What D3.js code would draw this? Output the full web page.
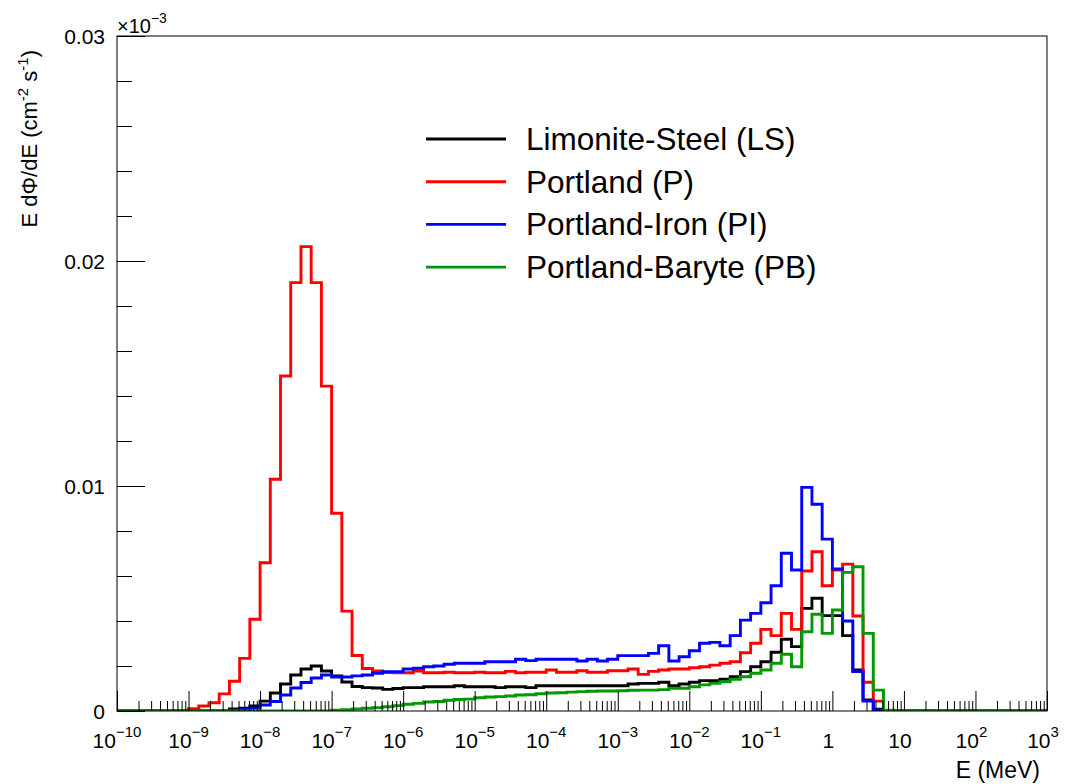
<!DOCTYPE html>
<html>
<head>
<meta charset="utf-8">
<script src="https://cdn.jsdelivr.net/npm/d3@7"></script>
<style>
    body { margin: 0; background: #fff; }
    svg { display: block; }
    text { font-family: "Liberation Sans", Arial, Helvetica, sans-serif; fill: #000; }
    .tick-label { font-size: 21px; }
</style>
</head>
<body>
<svg id="chart" width="1069" height="784"></svg>
<script>

// histogram binning: 7 log bins per decade, 1e-10 .. 1e3 MeV
const binsPerDecade = 7;
const eMin = 1e-10, eMax = 1e3;

const seriesNames = ["Limonite-Steel (LS)", "Portland (P)", "Portland-Iron (PI)", "Portland-Baryte (PB)"];
const seriesColors = ["#000000", "#ff0000", "#0000ff", "#009900"];

// one row per decade (7 bins)
const limoniteSteel = [
    0, 0, 0, 0, 0, 0, 0,
    0, 0, 0, 0, 0.00009, 0.00013, 0.00022,
    0.00044, 0.0008, 0.0012, 0.0016, 0.00187, 0.002, 0.00178,
    0.00156, 0.00129, 0.00109, 0.00104, 0.00102, 0.00096, 0.001,
    0.00104, 0.00104, 0.00108, 0.00108, 0.00108, 0.00112, 0.00108,
    0.00108, 0.00108, 0.00104, 0.00108, 0.00108, 0.00104, 0.00112,
    0.00112, 0.00112, 0.00112, 0.00112, 0.00112, 0.00112, 0.00112,
    0.00112, 0.0012, 0.00123, 0.00123, 0.00128, 0.00112, 0.0012,
    0.00128, 0.00135, 0.00135, 0.00141, 0.00152, 0.00175, 0.00197,
    0.00219, 0.00261, 0.00319, 0.00286, 0.00456, 0.00501, 0.00424,
    0.00424, 0.00335, 0.00182, 0.00049, 0.00008, 0, 0,
    0, 0, 0, 0, 0, 0, 0,
    0, 0, 0, 0, 0, 0, 0
];
const portland = [
    0, 0, 0, 0, 0, 0, 0,
    0.0001, 0.00022, 0.00037, 0.00076, 0.00132, 0.00234, 0.00408,
    0.00659, 0.0103, 0.01489, 0.01904, 0.02064, 0.01904, 0.01444,
    0.00879, 0.00444, 0.00247, 0.00189, 0.00178, 0.00171, 0.0017,
    0.0017, 0.00178, 0.0017, 0.0017, 0.00172, 0.0017, 0.0017,
    0.00172, 0.0017, 0.0017, 0.00176, 0.0017, 0.00172, 0.00172,
    0.00182, 0.00172, 0.00172, 0.00179, 0.00172, 0.00172, 0.00179,
    0.00179, 0.00187, 0.00163, 0.00176, 0.00182, 0.00187, 0.00187,
    0.00192, 0.00197, 0.00204, 0.00212, 0.00219, 0.00259, 0.00301,
    0.00363, 0.00335, 0.00434, 0.00363, 0.00622, 0.00708, 0.00557,
    0.00627, 0.00653, 0.00422, 0.00128, 0.00044, 0, 0,
    0, 0, 0, 0, 0, 0, 0,
    0, 0, 0, 0, 0, 0, 0
];
const portlandIron = [
    0, 0, 0, 0, 0, 0, 0,
    0, 0, 0, 0, 0, 0.00007, 0.00013,
    0.00027, 0.00042, 0.00071, 0.00102, 0.00127, 0.00147, 0.0016,
    0.00151, 0.00151, 0.00156, 0.0016, 0.00168, 0.00175, 0.00175,
    0.00187, 0.0019, 0.00197, 0.002, 0.00208, 0.00212, 0.00212,
    0.00212, 0.00219, 0.00219, 0.00219, 0.0023, 0.00224, 0.0023,
    0.0023, 0.0023, 0.0023, 0.00222, 0.0023, 0.00222, 0.0023,
    0.00246, 0.00246, 0.00246, 0.00256, 0.0029, 0.00222, 0.00241,
    0.00268, 0.00301, 0.00305, 0.0029, 0.00335, 0.00404, 0.00434,
    0.00481, 0.00557, 0.00701, 0.00627, 0.00994, 0.00919, 0.00764,
    0.00631, 0.004, 0.00175, 0.00044, 0.00004, 0, 0,
    0, 0, 0, 0, 0, 0, 0,
    0, 0, 0, 0, 0, 0, 0
];
const portlandBaryte = [
    0, 0, 0, 0, 0, 0, 0,
    0, 0, 0, 0, 0, 0, 0,
    0, 0, 0, 0, 0, 0, 0,
    0.00004, 0.00006, 0.00009, 0.00012, 0.00015, 0.00019, 0.00024,
    0.0003, 0.00034, 0.0004, 0.00042, 0.00048, 0.00051, 0.00053,
    0.00059, 0.00062, 0.00064, 0.00067, 0.00071, 0.00072, 0.00077,
    0.0008, 0.00081, 0.00084, 0.00086, 0.00088, 0.00089, 0.00089,
    0.0009, 0.00092, 0.00093, 0.00093, 0.00095, 0.00101, 0.00101,
    0.00108, 0.00116, 0.00123, 0.0013, 0.00141, 0.00152, 0.00168,
    0.00182, 0.00212, 0.00252, 0.00197, 0.00352, 0.0043, 0.00345,
    0.00449, 0.00616, 0.00641, 0.00345, 0.00093, 0.00004, 0,
    0, 0, 0, 0, 0, 0, 0,
    0, 0, 0, 0, 0, 0, 0
];

const xTickValues = [1e-10, 1e-9, 1e-8, 1e-7, 1e-6, 1e-5, 1e-4, 1e-3, 1e-2, 1e-1, 1, 10, 100, 1000];
const xTickLabels = ["10^-10", "10^-9", "10^-8", "10^-7", "10^-6", "10^-5", "10^-4",
                     "10^-3", "10^-2", "10^-1", "1", "10", "10^2", "10^3"];
const yTickValues = [0, 0.01, 0.02, 0.03];
const yTickLabels = ["0", "0.01", "0.02", "0.03"];

const allSeries = [limoniteSteel, portland, portlandIron, portlandBaryte];

let svg = d3.select("#chart");
let plotLeft = 117, plotRight = 1047, plotTop = 36, plotBottom = 711;

let x = d3.scaleLog().domain([eMin, eMax]).range([plotLeft, plotRight]);
let y = d3.scaleLinear().domain([0, 0.03]).range([plotBottom, plotTop]);

let edges = d3.range(limoniteSteel.length + 1).map(function (i) {
    return eMin * Math.pow(10, i / binsPerDecade);
});

svg.append("defs").append("clipPath").attr("id", "plotClip")
    .append("rect")
    .attr("x", plotLeft).attr("y", plotTop - 2)
    .attr("width", plotRight - plotLeft).attr("height", plotBottom - plotTop + 2);

// histograms
let histLine = d3.line()
    .x(function (d) { return x(d[0]); })
    .y(function (d) { return y(d[1]); })
    .curve(d3.curveStepAfter);

let plot = svg.append("g").attr("clip-path", "url(#plotClip)");
allSeries.forEach(function (values, s) {
    let pts = values.map(function (v, i) { return [edges[i], v]; });
    pts.push([edges[values.length], values[values.length - 1]]);
    plot.append("path")
        .attr("d", histLine(pts))
        .attr("fill", "none")
        .attr("stroke", seriesColors[s])
        .attr("stroke-width", 2.9)
        .attr("stroke-linejoin", "miter");
});

// minor ticks, 2..9 per decade
let xMinor = [];
xTickValues.slice(0, -1).forEach(function (d) {
    for (let k = 2; k <= 9; k++) xMinor.push(d * k);
});
let yMinor = d3.range(1, 15).map(function (i) { return i * 0.002; })
    .filter(function (d, i) { return (i + 1) % 5 !== 0; });

function cleanAxis(g) {
    g.select(".domain").remove();
    g.attr("font-size", null).attr("font-family", null);
    g.selectAll(".tick line").attr("stroke", "#000").attr("stroke-width", 1);
}

svg.append("g").attr("transform", "translate(0," + plotBottom + ")")
    .call(d3.axisBottom(x).tickValues(xMinor).tickSize(-10).tickSizeOuter(0).tickFormat(""))
    .call(cleanAxis);
svg.append("g").attr("transform", "translate(0," + plotBottom + ")")
    .call(d3.axisBottom(x).tickValues(xTickValues).tickSize(-20).tickSizeOuter(0).tickFormat(""))
    .call(cleanAxis);

svg.append("g").attr("transform", "translate(" + plotLeft + ",0)")
    .call(d3.axisLeft(y).tickValues(yMinor).tickSize(-15).tickSizeOuter(0).tickFormat(""))
    .call(cleanAxis);
svg.append("g").attr("transform", "translate(" + plotLeft + ",0)")
    .call(d3.axisLeft(y).tickValues(yTickValues).tickSize(-28).tickSizeOuter(0).tickPadding(12)
        .tickFormat(function (d, i) { return yTickLabels[i]; }))
    .call(cleanAxis)
    .selectAll(".tick text").attr("class", "tick-label").attr("dy", "0.36em");

// x tick labels with exponents
xTickValues.forEach(function (v, i) {
    let parts = xTickLabels[i].split("^");
    let t = svg.append("text")
        .attr("class", "tick-label")
        .attr("x", x(v))
        .attr("y", 748)
        .attr("text-anchor", "middle");
    t.append("tspan").text(parts[0]);
    if (parts.length > 1) {
        t.append("tspan").attr("dy", -11).attr("font-size", "15px")
            .text(parts[1].replace("-", "\u2212"));
    }
    if (parts.length === 1 || parts[1].indexOf("-") < 0) t.attr("dx", -4);
});

// frame
svg.append("rect")
    .attr("x", plotLeft).attr("y", plotTop)
    .attr("width", plotRight - plotLeft).attr("height", plotBottom - plotTop)
    .attr("fill", "none").attr("stroke", "#000").attr("stroke-width", 1);

// exponent note at the top of the y axis
let expNote = svg.append("text").attr("x", plotLeft).attr("y", 33).attr("font-size", "20px");
expNote.append("tspan").text("\u00d710");
expNote.append("tspan").attr("dy", -10).attr("font-size", "14px").text("\u22123");

// axis titles
svg.append("text")
    .attr("x", 1040).attr("y", 778)
    .attr("text-anchor", "end")
    .attr("font-size", "23px")
    .text("E (MeV)");

let yTitle = svg.append("text")
    .attr("transform", "translate(37,50) rotate(-90)")
    .attr("text-anchor", "end")
    .attr("font-size", "22px");
yTitle.append("tspan").text("E d\u03a6/dE (cm");
yTitle.append("tspan").attr("dy", -9).attr("font-size", "15px").text("-2");
yTitle.append("tspan").attr("dy", 9).text(" s");
yTitle.append("tspan").attr("dy", -9).attr("font-size", "15px").text("-1");
yTitle.append("tspan").attr("dy", 9).text(")");

// legend
let legend = svg.append("g");
seriesNames.forEach(function (name, i) {
    let ly = 139 + i * 42.7;
    legend.append("line")
        .attr("x1", 426).attr("x2", 506)
        .attr("y1", ly).attr("y2", ly)
        .attr("stroke", seriesColors[i]).attr("stroke-width", 2.9);
    legend.append("text")
        .attr("x", 526).attr("y", ly + 11)
        .attr("font-size", "31.5px")
        .text(name);
});

</script>
</body>
</html>
